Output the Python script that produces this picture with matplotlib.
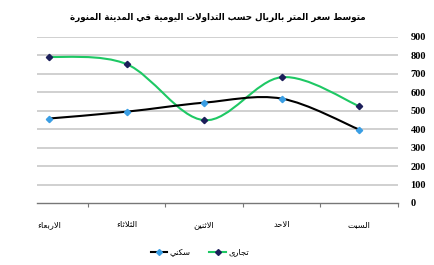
import numpy as np
import matplotlib
matplotlib.use("Agg")
import matplotlib.pyplot as plt
from matplotlib.path import Path
from matplotlib.patches import PathPatch
from matplotlib.lines import Line2D

# data
days = ["الاربعاء", "الثلاثاء", "الاثنين", "الاحد", "السبت"]
residential = [458, 495, 544, 566, 398]
commercial = [793, 753, 449, 682, 525]
yticks = [0, 100, 200, 300, 400, 500, 600, 700, 800, 900]
title = "متوسط سعر المتر بالريال حسب التداولات اليومية في المدينة المنورة"
name_res = "سكني"
name_com = "تجارى"

# minimal arabic shaping (matplotlib has no bidi / joining)
FORMS = {
    'ء': (0xFE80, None, None, None),
    'ا': (0xFE8D, 0xFE8E, None, None),
    'ب': (0xFE8F, 0xFE90, 0xFE91, 0xFE92),
    'ة': (0xFE93, 0xFE94, None, None),
    'ت': (0xFE95, 0xFE96, 0xFE97, 0xFE98),
    'ث': (0xFE99, 0xFE9A, 0xFE9B, 0xFE9C),
    'ج': (0xFE9D, 0xFE9E, 0xFE9F, 0xFEA0),
    'ح': (0xFEA1, 0xFEA2, 0xFEA3, 0xFEA4),
    'خ': (0xFEA5, 0xFEA6, 0xFEA7, 0xFEA8),
    'د': (0xFEA9, 0xFEAA, None, None),
    'ذ': (0xFEAB, 0xFEAC, None, None),
    'ر': (0xFEAD, 0xFEAE, None, None),
    'ز': (0xFEAF, 0xFEB0, None, None),
    'س': (0xFEB1, 0xFEB2, 0xFEB3, 0xFEB4),
    'ش': (0xFEB5, 0xFEB6, 0xFEB7, 0xFEB8),
    'ص': (0xFEB9, 0xFEBA, 0xFEBB, 0xFEBC),
    'ض': (0xFEBD, 0xFEBE, 0xFEBF, 0xFEC0),
    'ط': (0xFEC1, 0xFEC2, 0xFEC3, 0xFEC4),
    'ظ': (0xFEC5, 0xFEC6, 0xFEC7, 0xFEC8),
    'ع': (0xFEC9, 0xFECA, 0xFECB, 0xFECC),
    'غ': (0xFECD, 0xFECE, 0xFECF, 0xFED0),
    'ف': (0xFED1, 0xFED2, 0xFED3, 0xFED4),
    'ق': (0xFED5, 0xFED6, 0xFED7, 0xFED8),
    'ك': (0xFED9, 0xFEDA, 0xFEDB, 0xFEDC),
    'ل': (0xFEDD, 0xFEDE, 0xFEDF, 0xFEE0),
    'م': (0xFEE1, 0xFEE2, 0xFEE3, 0xFEE4),
    'ن': (0xFEE5, 0xFEE6, 0xFEE7, 0xFEE8),
    'ه': (0xFEE9, 0xFEEA, 0xFEEB, 0xFEEC),
    'و': (0xFEED, 0xFEEE, None, None),
    'ى': (0xFEEF, 0xFEF0, None, None),
    'ي': (0xFEF1, 0xFEF2, 0xFEF3, 0xFEF4),
    'لا': (0xFEFB, 0xFEFC, None, None),
}


def shape(text):
    out = []
    for word in text.split(" "):
        toks = []
        i = 0
        while i < len(word):
            if word[i] == 'ل' and i + 1 < len(word) and word[i + 1] == 'ا':
                toks.append('لا')
                i += 2
            else:
                toks.append(word[i])
                i += 1
        res = ""
        for k, t in enumerate(toks):
            f = FORMS.get(t)
            if f is None:
                res += t
                continue
            prev = FORMS.get(toks[k - 1]) if k > 0 else None
            nxt = FORMS.get(toks[k + 1]) if k + 1 < len(toks) else None
            jp = prev is not None and prev[2] is not None and f[1] is not None
            jn = nxt is not None and f[2] is not None and nxt[1] is not None
            if jp and jn:
                c = f[3]
            elif jp:
                c = f[1]
            elif jn:
                c = f[2]
            else:
                c = f[0]
            res += chr(c)
        out.append(res)
    return " ".join(out)[::-1]


def smooth_path(xs, ys):
    # excel-like smoothed line as bezier segments
    pts = list(zip(xs, ys))
    verts = [pts[0]]
    codes = [Path.MOVETO]
    n = len(pts)
    for i in range(n - 1):
        p0 = np.array(pts[max(i - 1, 0)])
        p1 = np.array(pts[i])
        p2 = np.array(pts[i + 1])
        p3 = np.array(pts[min(i + 2, n - 1)])
        c1 = p1 + (p2 - p0) / 6.0
        c2 = p2 - (p3 - p1) / 6.0
        verts += [tuple(c1), tuple(c2), tuple(p2)]
        codes += [Path.CURVE4] * 3
    return Path(verts, codes)


green = "#1ec864"
dark = "#1c1f5a"
blue = "#3a9ee4"

fig = plt.figure(figsize=(4.35, 2.65), dpi=100)
ax = fig.add_axes([37 / 435, 1 - 203 / 265, (398 - 37) / 435, (203 - 37) / 265])

x = np.arange(len(days))
ax.set_xlim(-0.155, 4.5)
ax.set_ylim(0, 900)

for v in yticks[1:]:
    ax.axhline(v, color="#c4c4c4", lw=1.1, zorder=0)

ax.add_patch(PathPatch(smooth_path(x, commercial), fill=False, ec=green, lw=1.5, zorder=2))
ax.add_patch(PathPatch(smooth_path(x, residential), fill=False, ec="black", lw=1.5, zorder=2))
ax.plot(x, commercial, ls="none", marker="D", ms=3.2, color=dark, zorder=3)
ax.plot(x, residential, ls="none", marker="D", ms=3.2, color=blue, zorder=3)

for s in ["top", "left", "right"]:
    ax.spines[s].set_visible(False)
ax.spines["bottom"].set_color("#777777")
ax.spines["bottom"].set_linewidth(1.0)

ax.set_xticks([0.5, 1.5, 2.5, 3.5, 4.5])
ax.set_xticklabels([])
ax.tick_params(axis="x", direction="out", length=3, color="#777777")
for xi, d in zip(x, days):
    ax.text(xi, -0.13, shape(d), transform=ax.get_xaxis_transform(),
            ha="center", va="center", fontsize=6, fontfamily="DejaVu Sans")

ax.yaxis.tick_right()
ax.set_yticks(yticks)
ax.set_yticklabels([str(v) for v in yticks], fontfamily="Liberation Serif",
                   fontweight="bold", fontsize=7.5)
ax.tick_params(axis="y", length=0, pad=9)

fig.text(0.5, 1 - 17 / 265, shape(title), ha="center", va="center",
         fontsize=6.3, fontweight="bold", fontfamily="DejaVu Sans")

handles = [
    Line2D([], [], color="black", lw=1.5, marker="D", ms=3, mfc=blue, mec=blue),
    Line2D([], [], color=green, lw=1.5, marker="D", ms=3, mfc=dark, mec=dark),
]
fig.legend(handles, [shape(name_res), shape(name_com)], loc="center",
           bbox_to_anchor=(200 / 435, 1 - 252 / 265), ncol=2, frameon=False,
           prop={"family": "DejaVu Sans", "size": 6}, handlelength=2.0,
           handletextpad=0.3, columnspacing=2.2)

fig.savefig("out.png", dpi=100)
